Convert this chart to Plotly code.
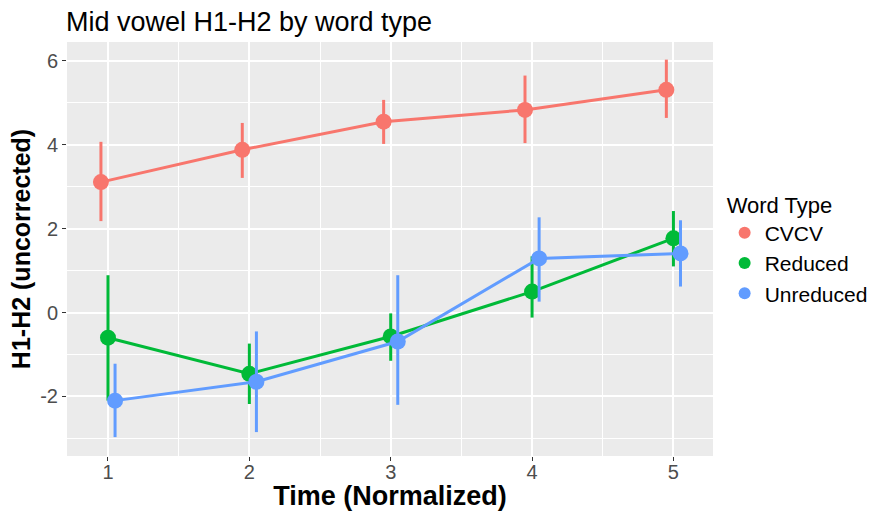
import plotly.graph_objects as go

time = [1, 2, 3, 4, 5]
groups = ["CVCV", "Reduced", "Unreduced"]
colors = {"CVCV": "#F8766D", "Reduced": "#00BA38", "Unreduced": "#619CFF"}

means = {
    "CVCV": [3.11, 3.88, 4.55, 4.83, 5.31],
    "Reduced": [-0.60, -1.46, -0.57, 0.50, 1.77],
    "Unreduced": [-2.10, -1.65, -0.69, 1.29, 1.41],
}
upper = {
    "CVCV": [4.07, 4.52, 5.07, 5.65, 6.03],
    "Reduced": [0.89, -0.74, -0.02, 1.34, 2.42],
    "Unreduced": [-1.22, -0.45, 0.89, 2.27, 2.20],
}
lower = {
    "CVCV": [2.18, 3.21, 4.02, 4.04, 4.64],
    "Reduced": [-2.10, -2.18, -1.15, -0.12, 1.10],
    "Unreduced": [-2.97, -2.85, -2.20, 0.26, 0.62],
}
dodge = {"CVCV": -0.05, "Reduced": 0.0, "Unreduced": 0.05}

fig = go.Figure()
for g in groups:
    xs = [t + dodge[g] for t in time]
    m = means[g]
    fig.add_trace(go.Scatter(
        x=xs, y=m, mode="lines+markers", name=g, showlegend=False,
        line=dict(color=colors[g], width=3),
        marker=dict(color=colors[g], size=16),
        error_y=dict(type="data", symmetric=False,
                     array=[u - v for u, v in zip(upper[g], m)],
                     arrayminus=[v - l for v, l in zip(m, lower[g])],
                     color=colors[g], thickness=3, width=0),
    ))
for g in groups:
    fig.add_trace(go.Scatter(
        x=[None], y=[None], mode="markers", name=g,
        marker=dict(color=colors[g], size=16),
    ))

fig.update_layout(
    width=871, height=511,
    margin=dict(l=67, r=158, t=42, b=55, autoexpand=False),
    paper_bgcolor="white", plot_bgcolor="#EBEBEB",
    font=dict(family="Liberation Sans, Arial, sans-serif", color="black"),
    title=dict(text="Mid vowel H1-H2 by word type", x=66/871, xanchor="left",
               y=1 - 22/511, yanchor="middle", font=dict(size=27, color="black")),
    legend=dict(title=dict(text="Word Type", font=dict(size=22)),
                font=dict(size=21), x=1.018, xanchor="left", y=0.5, yanchor="middle",
                bgcolor="rgba(0,0,0,0)", itemsizing="constant", tracegroupgap=0,
                itemwidth=30),
    showlegend=True,
)
fig.update_xaxes(
    range=[0.71, 5.28], tickvals=time, ticktext=[str(t) for t in time],
    showgrid=True, gridcolor="white", gridwidth=1.5, zeroline=False,
    minor=dict(tickvals=[1.5, 2.5, 3.5, 4.5], showgrid=True, gridcolor="white", gridwidth=0.7, ticklen=0),
    ticks="outside", ticklen=4, tickcolor="#333333", ticklabelstandoff=-6,
    tickfont=dict(size=20, color="#4D4D4D"),
    title=dict(text="<b>Time (Normalized)</b>", font=dict(size=27, color="black"), standoff=14),
)
fig.update_yaxes(
    range=[-3.42, 6.45], tickvals=[-2, 0, 2, 4, 6], ticktext=["-2", "0", "2", "4", "6"],
    showgrid=True, gridcolor="white", gridwidth=1.5, zeroline=False,
    minor=dict(tickvals=[-3, -1, 1, 3, 5], showgrid=True, gridcolor="white", gridwidth=0.7, ticklen=0),
    ticks="outside", ticklen=4, tickcolor="#333333",
    tickfont=dict(size=20, color="#4D4D4D"),
    title=dict(text="<b>H1-H2 (uncorrected)</b>", font=dict(size=25, color="black"), standoff=2),
)
fig.write_html("out.html")
